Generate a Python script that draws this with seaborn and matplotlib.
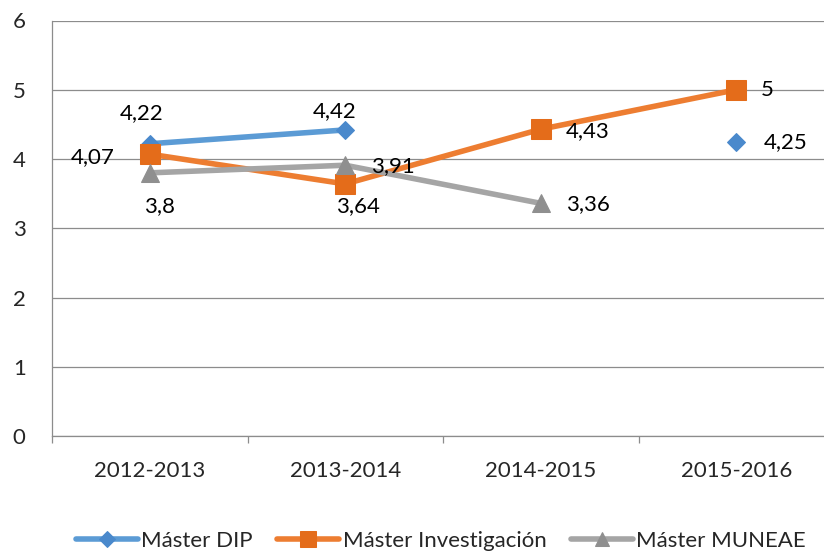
import matplotlib
matplotlib.use('Agg')
import matplotlib.pyplot as plt
import numpy as np
import pandas as pd
import seaborn as sns

years = ['2012-2013', '2013-2014', '2014-2015', '2015-2016']
dip = [4.22, 4.42, np.nan, 4.25]
investigacion = [4.07, 3.64, 4.43, 5.0]
muneae = [3.80, 3.91, 3.36, np.nan]
series_names = ['Máster DIP', 'Máster Investigación', 'Máster MUNEAE']

colors = ['#5B9BD5', '#ED7D31', '#A5A5A5']
marker_colors = ['#4A89CC', '#E46C1A', '#8F8F8F']
markers = ['D', 's', '^']
marker_sizes = [9, 14, 12.5]
# data label placement per point: (ha, dx, dy) in pixels
label_pos = [
    [('center', -8, 31), ('center', -11, 19), None, ('left', 28, 0)],
    [('right', -35, -3), ('center', 13, -22), ('left', 25, -2), ('left', 25, 0)],
    [('center', 10, -33), ('left', 26, -1), ('left', 25, -1), None],
]

sns.set_style('white')
plt.rcParams['font.family'] = ['Lato', 'DejaVu Sans']
fs = 16

fig = plt.figure(figsize=(8.24, 5.53), dpi=100)
ax = fig.add_axes([52 / 824, 1 - 436 / 553, 782 / 824, 415.5 / 553])

df = pd.DataFrame({'x': np.arange(len(years)), 'DIP': dip, 'INV': investigacion, 'MUN': muneae})
for key, name, c, mc, m, ms, lp in zip(['DIP', 'INV', 'MUN'], series_names, colors, marker_colors,
                                       markers, marker_sizes, label_pos):
    sub = df[['x', key]].copy()
    # split on gaps so missing values break the line
    sub['seg'] = sub[key].isna().cumsum()
    sub = sub.dropna()
    first = True
    for _, part in sub.groupby('seg'):
        sns.lineplot(data=part, x='x', y=key, ax=ax, color=c, lw=4, marker=m, markersize=ms,
                     markerfacecolor=mc, markeredgecolor=mc, label=name if first else None,
                     legend=False, estimator=None)
        first = False
    for i, v in enumerate(df[key]):
        if np.isnan(v) or lp[i] is None:
            continue
        ha, dx, dy = lp[i]
        ax.annotate(f'{v:g}'.replace('.', ','), xy=(i, v), xytext=(dx, dy), textcoords='offset pixels',
                    ha=ha, va='center', fontsize=fs, color='#000000', zorder=5)

ax.set_xlim(-0.5, len(years) - 0.5)
ax.set_ylim(0, 6)
ax.set_yticks(range(0, 7))
ax.set_xticks(range(len(years)))
ax.set_xticklabels(years)
ax.set_xticks(np.arange(-0.5, len(years), 1), minor=True)
ax.set_xlabel('')
ax.set_ylabel('')
ax.grid(axis='y', color='#8C8C8C', lw=0.9)
ax.set_axisbelow(True)
for s in ['top', 'right']:
    ax.spines[s].set_visible(False)
for s in ['left', 'bottom']:
    ax.spines[s].set_color('#8C8C8C')
    ax.spines[s].set_linewidth(0.9)
ax.tick_params(axis='y', which='major', length=6, width=0.9, color='#8C8C8C', pad=13, labelsize=fs)
ax.tick_params(axis='x', which='major', length=0, pad=18, labelsize=fs)
ax.tick_params(axis='x', which='minor', length=5, width=0.9, color='#8C8C8C', bottom=True)

handles, labels = ax.get_legend_handles_labels()
fig.legend(handles, labels, loc='center', bbox_to_anchor=(0.535, 1 - 541 / 553), ncol=3, frameon=False,
           fontsize=fs, handlelength=2.8, handletextpad=0.15, columnspacing=1.1, numpoints=1,
           markerscale=0.85, borderpad=0.2, borderaxespad=0.2)

fig.savefig('out.png', dpi=100)
